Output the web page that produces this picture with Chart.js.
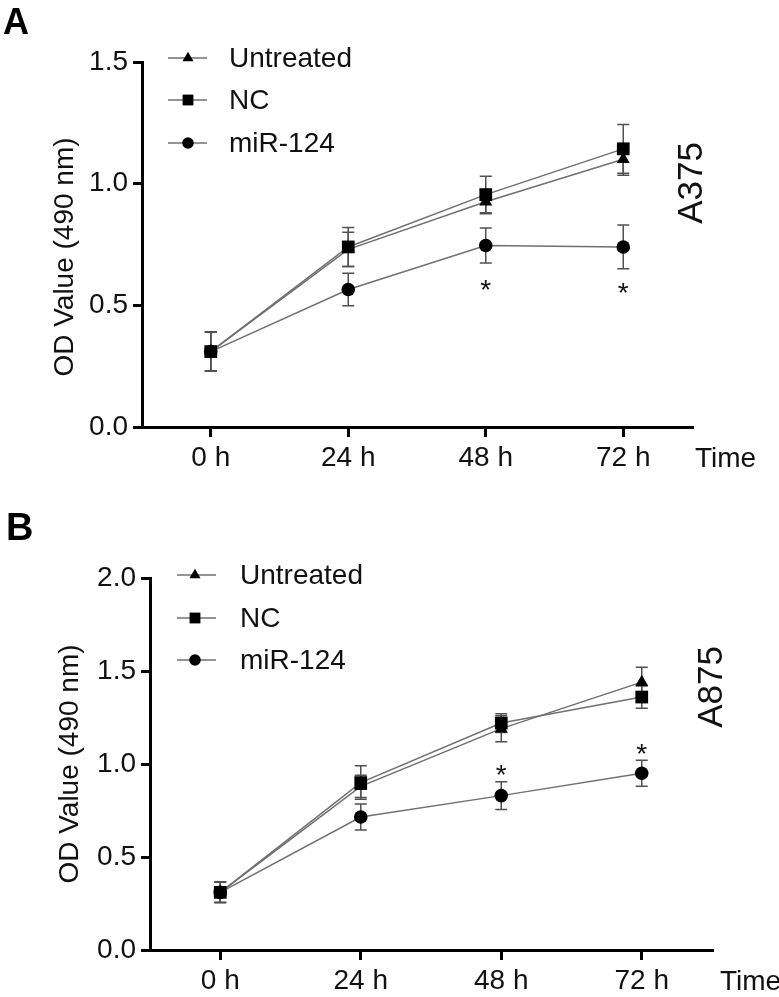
<!DOCTYPE html>
<html>
<head>
<meta charset="utf-8">
<script src="https://cdn.jsdelivr.net/npm/chart.js@4/dist/chart.umd.min.js"></script>
<style>
  html, body { margin: 0; padding: 0; background: #fff; }
  #wrap { position: relative; width: 779px; height: 997px; overflow: hidden; }
  #boxA { position: absolute; left: 0; top: 0; width: 779px; height: 480px; }
  #boxB { position: absolute; left: 0; top: 480px; width: 779px; height: 517px; }
</style>
</head>
<body>
<div id="wrap">
  <div id="boxA"><canvas id="chartA" width="779" height="480"></canvas></div>
  <div id="boxB"><canvas id="chartB" width="779" height="517"></canvas></div>
</div>
<script>
// shared
let timeLabels = ["0 h", "24 h", "48 h", "72 h"];
let seriesNames = ["Untreated", "NC", "miR-124"];

// panel A - A375
let a375Untreated = [0.31, 0.73, 0.926, 1.10];
let a375NC = [0.31, 0.74, 0.955, 1.143];
let a375Mir = [0.31, 0.565, 0.746, 0.74];
let a375UntreatedErr = [0.08, 0.07, 0.05, 0.065];
let a375NCErr = [0.08, 0.08, 0.075, 0.10];
let a375MirErr = [0.08, 0.067, 0.072, 0.09];
let a375Stars = [null, null, 0.59, 0.58];
let a375Ticks = [0, 0.5, 1.0, 1.5];

// panel B - A875
let a875Untreated = [0.31, 0.88, 1.19, 1.44];
let a875NC = [0.31, 0.90, 1.22, 1.36];
let a875Mir = [0.31, 0.715, 0.83, 0.95];
let a875UntreatedErr = [0.055, 0.06, 0.07, 0.08];
let a875NCErr = [0.055, 0.09, 0.05, 0.06];
let a875MirErr = [0.055, 0.07, 0.075, 0.07];
let a875Stars = [null, null, 0.98, 1.09];
let a875Ticks = [0, 0.5, 1.0, 1.5, 2.0];

let FONT = "'Liberation Sans', Arial, sans-serif";
let LINE_COLOR = "#707070";
let ERR_COLOR = "#505050";
let pointStyles = ["triangle", "rect", "circle"];
let pointSizes = [7.5, 9, 6.8];

function errorBars(errs) {
	return {
		id: "errorBars",
		beforeDatasetsDraw: function (chart) {
			let ctx = chart.ctx;
			let y = chart.scales.y;
			ctx.save();
			ctx.strokeStyle = ERR_COLOR;
			ctx.lineWidth = 1.5;
			for (let d = 0; d < chart.data.datasets.length; d++) {
				let meta = chart.getDatasetMeta(d);
				let values = chart.data.datasets[d].data;
				for (let i = 0; i < values.length; i++) {
					let x = meta.data[i].x;
					let top = y.getPixelForValue(values[i] + errs[d][i]);
					let bottom = y.getPixelForValue(values[i] - errs[d][i]);
					ctx.beginPath();
					ctx.moveTo(x, top);
					ctx.lineTo(x, bottom);
					ctx.moveTo(x - 6, top);
					ctx.lineTo(x + 6, top);
					ctx.moveTo(x - 6, bottom);
					ctx.lineTo(x + 6, bottom);
					ctx.stroke();
				}
			}
			ctx.restore();
		}
	};
}

function extras(p) {
	return {
		id: "extras",
		afterDraw: function (chart) {
			let ctx = chart.ctx;
			let x = chart.scales.x;
			let y = chart.scales.y;
			ctx.save();
			ctx.fillStyle = "#111";

			// panel letter
			ctx.font = "bold " + p.letterSize + "px " + FONT;
			ctx.textAlign = "left";
			ctx.textBaseline = "alphabetic";
			ctx.fillStyle = "#000";
			ctx.fillText(p.letter, p.letterX, p.letterY);
			ctx.fillStyle = "#111";

			// stars
			ctx.font = "28px " + FONT;
			ctx.textAlign = "center";
			for (let i = 0; i < p.stars.length; i++) {
				if (p.stars[i] == null) continue;
				ctx.fillText("*", x.getPixelForValue(i), y.getPixelForValue(p.stars[i]) + 16);
			}

			// Time label
			ctx.textAlign = "left";
			ctx.fillText("Time", p.timeX, p.timeY);

			// y title
			ctx.save();
			ctx.translate(p.titleX, p.titleY);
			ctx.rotate(-Math.PI / 2);
			ctx.textAlign = "center";
			ctx.font = "28px " + FONT;
			ctx.fillText("OD Value (490 nm)", 0, 0);
			ctx.restore();

			// cell line label
			ctx.save();
			ctx.translate(p.cellX, p.cellY);
			ctx.rotate(-Math.PI / 2);
			ctx.textAlign = "center";
			ctx.font = "35px " + FONT;
			ctx.fillText(p.cell, 0, 0);
			ctx.restore();

			// legend
			ctx.font = "28px " + FONT;
			ctx.textBaseline = "middle";
			ctx.textAlign = "left";
			for (let i = 0; i < seriesNames.length; i++) {
				let ly = p.legendY[i];
				ctx.strokeStyle = LINE_COLOR;
				ctx.lineWidth = 1.5;
				ctx.beginPath();
				ctx.moveTo(p.legendX1, ly);
				ctx.lineTo(p.legendX2, ly);
				ctx.stroke();
				ctx.fillStyle = "#000";
				Chart.helpers.drawPoint(ctx, {
					pointStyle: pointStyles[i],
					radius: pointSizes[i] * 0.85,
					rotation: 0,
					borderWidth: 0
				}, p.markerX, ly);
				ctx.fillStyle = "#111";
				ctx.fillText(seriesNames[i], p.textX, ly + 1);
			}
			ctx.restore();
		}
	};
}

function createPanel(canvasId, p) {
	let datasets = [];
	let orders = [1, 0, 2];
	for (let i = 0; i < 3; i++) {
		datasets.push({
			label: seriesNames[i],
			data: p.series[i],
			borderColor: LINE_COLOR,
			borderWidth: 1.5,
			backgroundColor: "#000",
			pointBackgroundColor: "#000",
			pointBorderColor: "#000",
			pointBorderWidth: 0,
			pointStyle: pointStyles[i],
			pointRadius: pointSizes[i],
			tension: 0,
			order: orders[i]
		});
	}

	let config = {
		type: "line",
		data: { labels: timeLabels, datasets: datasets },
		options: {
			responsive: false,
			animation: false,
			layout: { padding: { top: p.top, right: p.right, left: 0, bottom: 0 } },
			plugins: { legend: { display: false }, tooltip: { enabled: false } },
			scales: {
				x: {
					type: "category",
					offset: true,
					border: { display: true, color: "#000", width: 3 },
					grid: { display: true, drawOnChartArea: false, color: "#000", lineWidth: 3, tickLength: 10 },
					ticks: { color: "#111", font: { family: FONT, size: 28 }, padding: 4, maxRotation: 0 },
					afterFit: function (scale) { scale.height = p.xHeight; }
				},
				y: {
					min: 0,
					max: p.yMax,
					afterBuildTicks: function (scale) {
						scale.ticks = p.ticks.map(function (v) { return { value: v }; });
					},
					border: { display: true, color: "#000", width: 3 },
					grid: { display: true, drawOnChartArea: false, color: "#000", lineWidth: 3, tickLength: 9 },
					ticks: {
						color: "#111",
						font: { family: FONT, size: 28 },
						padding: 5,
						callback: function (v) { return Number(v).toFixed(1); }
					},
					afterFit: function (scale) { scale.width = p.yWidth; }
				}
			}
		},
		plugins: [errorBars(p.errs), extras(p)]
	};

	let ctx = document.getElementById(canvasId).getContext("2d");
	return new Chart(ctx, config);
}

let chartA = createPanel("chartA", {
	series: [a375Untreated, a375NC, a375Mir],
	errs: [a375UntreatedErr, a375NCErr, a375MirErr],
	stars: a375Stars,
	ticks: a375Ticks,
	yMax: 1.5,
	top: 62, right: 87, yWidth: 142, xHeight: 53,
	letter: "A", letterSize: 36, letterX: 3, letterY: 34,
	timeX: 695, timeY: 467,
	titleX: 73, titleY: 257,
	cell: "A375", cellX: 702, cellY: 183,
	legendX1: 168, legendX2: 207, markerX: 188, textX: 229, legendY: [58, 100, 143]
});

let chartB = createPanel("chartB", {
	series: [a875Untreated, a875NC, a875Mir],
	errs: [a875UntreatedErr, a875NCErr, a875MirErr],
	stars: a875Stars,
	ticks: a875Ticks,
	yMax: 2.0,
	top: 98, right: 67, yWidth: 150, xHeight: 47,
	letter: "B", letterSize: 38, letterX: 6, letterY: 60,
	timeX: 720, timeY: 510,
	titleX: 78, titleY: 284,
	cell: "A875", cellX: 722, cellY: 207,
	legendX1: 177, legendX2: 216, markerX: 195, textX: 240, legendY: [95, 138, 180]
});
</script>
</body>
</html>
